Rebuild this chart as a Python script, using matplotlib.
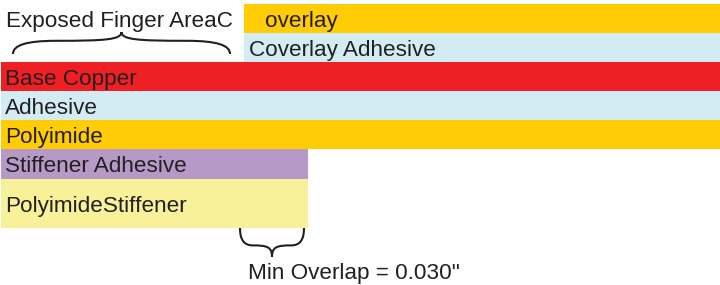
import matplotlib.pyplot as plt
from matplotlib.path import Path
from matplotlib.patches import PathPatch

# layer stack, in pixel units of the drawing (top to bottom)
layer_names = ["overlay", "Coverlay Adhesive", "Base Copper", "Adhesive",
               "Polyimide", "Stiffener Adhesive", "PolyimideStiffener"]
layer_left = [244, 244, 1, 1, 1, 1, 1]
layer_right = [720, 720, 720, 720, 720, 308, 308]
layer_top = [4, 33, 62, 91, 120, 149, 179]
layer_bottom = [33, 62, 91, 120, 149, 179, 228]
label_x = [265, 249, 5, 5, 5, 5, 5]
layer_colors = ["#FFCC05", "#D3ECF3", "#EE2024", "#D3ECF3",
                "#FFCC05", "#B699C6", "#F8F199"]

# braces: (x start, x end, y at the ends, y at the tip)
brace_spans = [(13, 230, 54, 32), (240, 304, 228, 257)]
notes = ["Exposed Finger AreaC", 'Min Overlap = 0.030"']
note_x = [6, 248]
note_y = [27, 279]

TEXT = "#231F20"
plt.rcParams['font.family'] = ['Liberation Sans', 'DejaVu Sans']


def brace(ax, x0, x1, y_end, y_tip):
    xm = (x0 + x1) / 2
    h = y_tip - y_end
    w = (x1 - x0) / 2
    ymid = y_end + 0.6 * h
    verts = [
        (x0, y_end),
        (x0, y_end + 0.4 * h), (x0 + 0.12 * w, ymid), (x0 + 0.4 * w, ymid),
        (xm - 0.15 * w, ymid), (xm, ymid + 0.05 * h), (xm, y_tip),
        (xm, ymid + 0.05 * h), (xm + 0.15 * w, ymid), (x1 - 0.4 * w, ymid),
        (x1 - 0.12 * w, ymid), (x1, y_end + 0.4 * h), (x1, y_end),
    ]
    codes = [Path.MOVETO] + [Path.CURVE4] * 12
    ax.add_patch(PathPatch(Path(verts, codes), fill=False,
                           edgecolor=TEXT, linewidth=1.5, capstyle='butt'))


fig = plt.figure(figsize=(7.2, 2.85), dpi=100)
ax = fig.add_axes([0, 0, 1, 1])
ax.set_xlim(0, 720)
ax.set_ylim(285, 0)
ax.axis('off')

for name, l, r, t, b, lx, c in zip(layer_names, layer_left, layer_right,
                                   layer_top, layer_bottom, label_x, layer_colors):
    ax.barh((t + b) / 2, r - l, height=b - t, left=l, color=c, linewidth=0)
    ax.text(lx, (t + b) / 2 + 0.5, name, fontsize=16.2, color=TEXT,
            va='center_baseline', ha='left')

for (x0, x1, ye, yt) in brace_spans:
    brace(ax, x0, x1, ye, yt)

for s, x, y in zip(notes, note_x, note_y):
    ax.text(x, y, s, fontsize=16.2, color=TEXT, va='baseline', ha='left')

fig.savefig("out.png", dpi=100)
